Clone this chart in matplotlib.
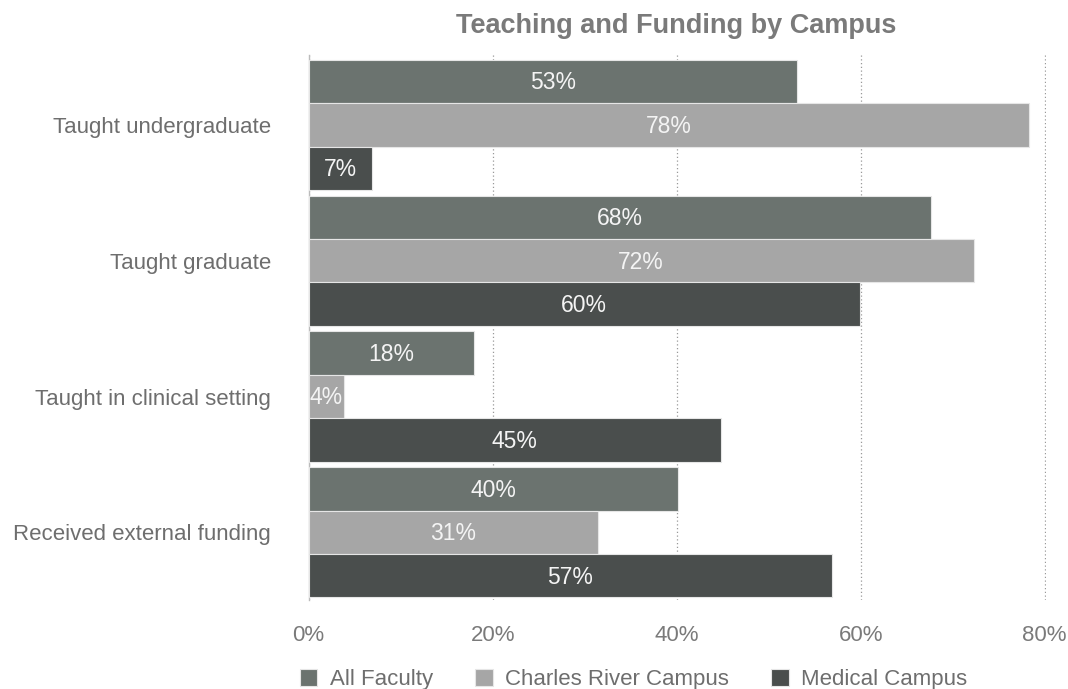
import numpy as np
import matplotlib
matplotlib.use("Agg")
import matplotlib.pyplot as plt

plt.rcParams['font.family'] = ['Liberation Sans', 'DejaVu Sans']

# data (percent)
categories = ["Taught undergraduate", "Taught graduate",
              "Taught in clinical setting", "Received external funding"]
series_names = ["All Faculty", "Charles River Campus", "Medical Campus"]
all_faculty = [53.1, 67.7, 18.0, 40.2]
charles_river = [78.3, 72.3, 3.8, 31.4]
medical = [6.9, 59.9, 44.8, 56.9]
colors = ["#6b736f", "#a6a6a6", "#4a4e4d"]

fig = plt.figure(figsize=(10.68, 6.89), dpi=100)
ax = fig.add_axes([0.289, 0.129, 0.690, 0.791])

y = np.arange(len(categories))
h = 0.32
offsets = [-h, 0, h]
for vals, off, col, name in zip([all_faculty, charles_river, medical], offsets, colors, series_names):
    bars = ax.barh(y + off, vals, height=h, color=col, edgecolor="#e6e6e6",
                   linewidth=0.8, label=name, zorder=3)
    for b, v in zip(bars, vals):
        ax.text(b.get_width() / 2, b.get_y() + b.get_height() / 2 + 0.01, f"{round(v)}%",
                ha="center", va="center", color="#f4f4f4", fontsize=16.5, zorder=4)

ax.set_xlim(0, 80.1)
ax.set_ylim(3.5, -0.515)
ax.set_xticks([0, 20, 40, 60, 80])
ax.set_xticklabels(["0%", "20%", "40%", "60%", "80%"])
ax.set_yticks(y)
ax.set_yticklabels(categories)
ax.tick_params(axis="x", length=0, pad=18, labelsize=16, labelcolor="#7a7a7a")
ax.tick_params(axis="y", length=0, pad=27, labelsize=16, labelcolor="#6e6e6e")

for s in ["top", "right", "bottom"]:
    ax.spines[s].set_visible(False)
ax.spines["left"].set_color("#bbbbbb")
ax.spines["left"].set_linewidth(1)
ax.grid(axis="x", linestyle=(0, (1, 2)), color="#999999", linewidth=0.9, zorder=0)
ax.set_axisbelow(True)

fig.text(0.633, 0.962, "Teaching and Funding by Campus", ha="center", va="center",
         fontsize=19.5, fontweight="bold", color="#7a7a7a")

fig.legend(loc="center", bbox_to_anchor=(0.593, 0.014), bbox_transform=fig.transFigure,
           ncol=3, frameon=False, fontsize=16, labelcolor="#6e6e6e",
           handlelength=0.8, handleheight=0.8, handletextpad=0.55, columnspacing=1.9)

fig.savefig("out.png", dpi=100)
